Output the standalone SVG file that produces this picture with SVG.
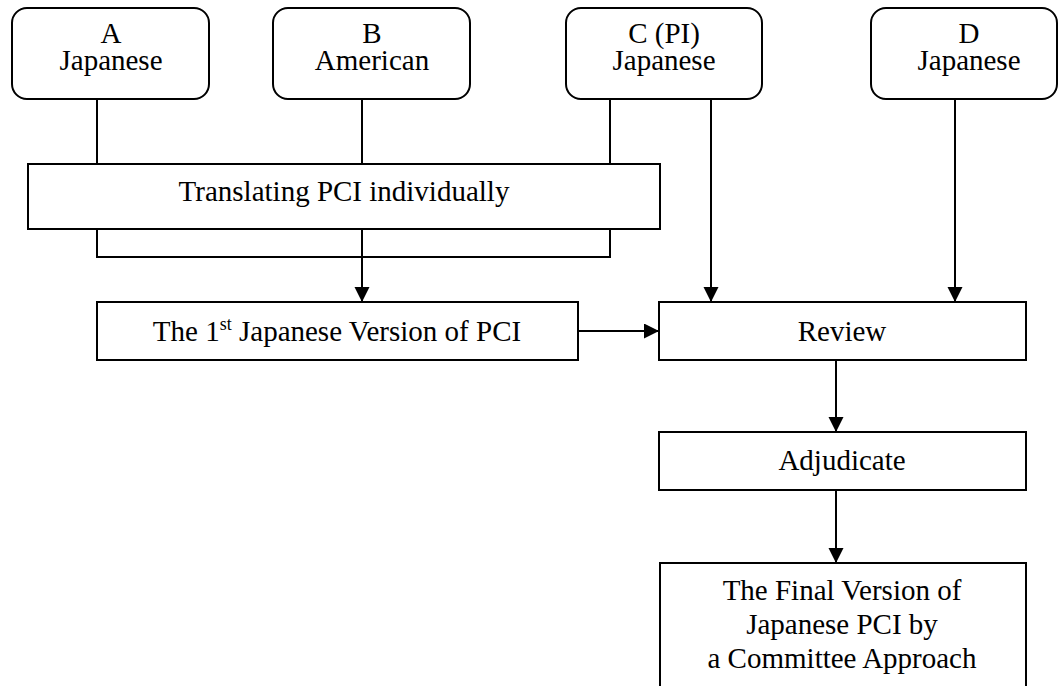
<svg xmlns="http://www.w3.org/2000/svg" width="1058" height="686" viewBox="0 0 1058 686">
<style>
.box{fill:#fff;stroke:#000;stroke-width:2}
.t{font-family:"Liberation Serif","Times New Roman",serif;font-size:29px;fill:#000;text-anchor:middle}
.c{fill:none;stroke:#000;stroke-width:2}
</style>
<defs>
<marker id="ah" markerUnits="userSpaceOnUse" markerWidth="16" markerHeight="16" refX="15" refY="7.5" orient="auto">
<path d="M0,0 L15,7.5 L0,15 Z" fill="#000"/>
</marker>
</defs>
<rect width="1058" height="686" fill="#fff"/>
<g id="connectors">
<line class="c" x1="97" y1="99" x2="97" y2="164"/>
<line class="c" x1="362" y1="99" x2="362" y2="164"/>
<line class="c" x1="610" y1="99" x2="610" y2="164"/>
<path class="c" d="M97,229 V257 H610 V229"/>
<line class="c" x1="362" y1="229" x2="362" y2="302" marker-end="url(#ah)"/>
<line class="c" x1="711" y1="99" x2="711" y2="302" marker-end="url(#ah)"/>
<line class="c" x1="955" y1="99" x2="955" y2="302" marker-end="url(#ah)"/>
<line class="c" x1="578" y1="331" x2="659" y2="331" marker-end="url(#ah)"/>
<line class="c" x1="836" y1="360" x2="836" y2="432" marker-end="url(#ah)"/>
<line class="c" x1="836" y1="490" x2="836" y2="563" marker-end="url(#ah)"/>
</g>
<g id="nodeA">
<rect class="box" x="12" y="8" width="197" height="91" rx="15"/>
<text class="t" x="111" y="43">A</text>
<text class="t" x="111" y="70">Japanese</text>
</g>
<g id="nodeB">
<rect class="box" x="273" y="8" width="197" height="91" rx="15"/>
<text class="t" x="372" y="43">B</text>
<text class="t" x="372" y="70">American</text>
</g>
<g id="nodeC">
<rect class="box" x="566" y="8" width="196" height="91" rx="15"/>
<text class="t" x="664" y="43">C (PI)</text>
<text class="t" x="664" y="70">Japanese</text>
</g>
<g id="nodeD">
<rect class="box" x="871" y="8" width="186" height="91" rx="15"/>
<text class="t" x="969" y="43">D</text>
<text class="t" x="969" y="70">Japanese</text>
</g>
<g id="translate">
<rect class="box" x="28" y="164" width="632" height="65"/>
<text class="t" x="344" y="201">Translating PCI individually</text>
</g>
<g id="first">
<rect class="box" x="97" y="302" width="481" height="58"/>
<text class="t" x="337" y="341">The 1<tspan font-size="18" dy="-11">st</tspan><tspan dy="11"> Japanese Version of PCI</tspan></text>
</g>
<g id="review">
<rect class="box" x="659" y="302" width="367" height="58"/>
<text class="t" x="842" y="341">Review</text>
</g>
<g id="adjudicate">
<rect class="box" x="659" y="432" width="367" height="58"/>
<text class="t" x="842" y="470">Adjudicate</text>
</g>
<g id="final">
<rect class="box" x="660" y="563" width="366" height="140"/>
<text class="t" x="842" y="600">The Final Version of</text>
<text class="t" x="842" y="634">Japanese PCI by</text>
<text class="t" x="842" y="668">a Committee Approach</text>
</g>
</svg>
